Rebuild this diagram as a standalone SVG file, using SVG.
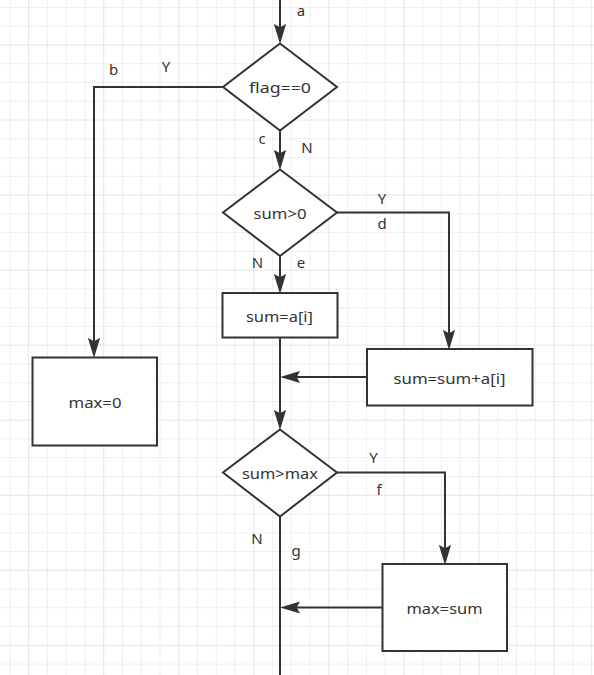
<svg xmlns="http://www.w3.org/2000/svg" width="594" height="675" viewBox="0 0 594 675">
<style>
.node{fill:#fff;stroke:#333;stroke-width:2}
.lbl{font-family:"Noto Sans","Open Sans",sans-serif;font-size:15px;fill:#333;text-anchor:middle}
.edge{fill:none;stroke:#333;stroke-width:2}
.minor{fill:#efefef}
.major{fill:#e4e4e4}
</style>
<defs>
<pattern id="grid" patternUnits="userSpaceOnUse" x="28.2" y="44.5" width="75.04" height="75.04">
<rect class="minor" x="18.76" y="0" width="1" height="75.04"/>
<rect class="minor" x="37.52" y="0" width="1" height="75.04"/>
<rect class="minor" x="56.28" y="0" width="1" height="75.04"/>
<rect class="minor" x="0" y="18.76" width="75.04" height="1"/>
<rect class="minor" x="0" y="37.52" width="75.04" height="1"/>
<rect class="minor" x="0" y="56.28" width="75.04" height="1"/>
<rect class="major" x="0" y="0" width="1" height="75.04"/>
<rect class="major" x="0" y="0" width="75.04" height="1"/>
</pattern>
<marker id="arr" markerUnits="userSpaceOnUse" markerWidth="20" markerHeight="14" viewBox="0 0 18 12" refX="10" refY="6" orient="auto">
<path d="M0,0.5 L18,6 L0,11.5 L3,6 Z" fill="#333"/>
</marker>
</defs>
<rect x="0" y="0" width="594" height="675" fill="#fff"/>
<rect x="0" y="0" width="594" height="675" fill="url(#grid)"/>

<g id="connectors">
<path class="edge" d="M280,0 V35" marker-end="url(#arr)"/>
<path class="edge" d="M223,87 H94 V349" marker-end="url(#arr)"/>
<path class="edge" d="M280,130 V161" marker-end="url(#arr)"/>
<path class="edge" d="M337,212.5 H449 V341" marker-end="url(#arr)"/>
<path class="edge" d="M280,256 V285" marker-end="url(#arr)"/>
<path class="edge" d="M280,338 V421" marker-end="url(#arr)"/>
<path class="edge" d="M367,377 H289" marker-end="url(#arr)"/>
<path class="edge" d="M337,472.5 H445 V556" marker-end="url(#arr)"/>
<path class="edge" d="M280,517 V675"/>
<path class="edge" d="M382,607.5 H289" marker-end="url(#arr)"/>
</g>

<g id="edge-labels">
<text class="lbl" x="301" y="16">a</text>
<text class="lbl" x="113.5" y="75">b</text>
<text class="lbl" x="166" y="71.5">Y</text>
<text class="lbl" x="262" y="144">c</text>
<text class="lbl" x="307" y="153">N</text>
<text class="lbl" x="382" y="204">Y</text>
<text class="lbl" x="382" y="229">d</text>
<text class="lbl" x="257.5" y="268">N</text>
<text class="lbl" x="301" y="268">e</text>
<text class="lbl" x="373.5" y="463">Y</text>
<text class="lbl" x="379" y="495">f</text>
<text class="lbl" x="257" y="544">N</text>
<text class="lbl" x="296" y="556">g</text>
</g>

<g id="flag">
<polygon class="node" points="280,43.5 337,87 280,130.5 223,87"/>
<text class="lbl" x="280" y="93" textLength="62" lengthAdjust="spacingAndGlyphs">flag==0</text>
</g>
<g id="sumgt0">
<polygon class="node" points="280,169.5 337,212.5 280,256 223,212.5"/>
<text class="lbl" x="280" y="218.5" textLength="53" lengthAdjust="spacingAndGlyphs">sum&gt;0</text>
</g>
<g id="sumai">
<rect class="node" x="222.5" y="293" width="115" height="44.5"/>
<text class="lbl" x="279.5" y="321.5" textLength="67" lengthAdjust="spacingAndGlyphs">sum=a[i]</text>
</g>
<g id="sumsum">
<rect class="node" x="367" y="349" width="165.5" height="56.5"/>
<text class="lbl" x="449.5" y="384" textLength="112" lengthAdjust="spacingAndGlyphs">sum=sum+a[i]</text>
</g>
<g id="max0">
<rect class="node" x="32.5" y="357.5" width="124.5" height="88"/>
<text class="lbl" x="95" y="407.5" textLength="53" lengthAdjust="spacingAndGlyphs">max=0</text>
</g>
<g id="sumgtmax">
<polygon class="node" points="280,429.5 337,472.5 280,516.5 223,472.5"/>
<text class="lbl" x="280" y="478.5" textLength="76" lengthAdjust="spacingAndGlyphs">sum&gt;max</text>
</g>
<g id="maxsum">
<rect class="node" x="382.5" y="564" width="124.5" height="87"/>
<text class="lbl" x="444.5" y="614" textLength="76" lengthAdjust="spacingAndGlyphs">max=sum</text>
</g>
</svg>
